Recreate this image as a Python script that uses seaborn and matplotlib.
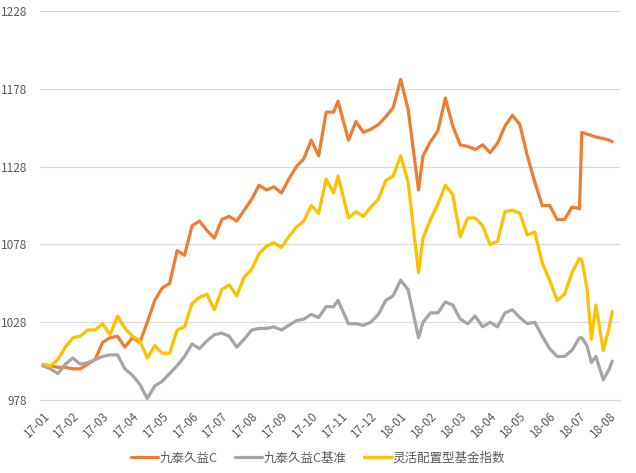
import numpy as np
import pandas as pd
import matplotlib
matplotlib.use('Agg')
import matplotlib.pyplot as plt
import seaborn as sns

months = [0, 0.25, 0.5, 0.75, 1, 1.25, 1.5, 1.75, 2, 2.25, 2.5, 2.75, 3, 3.25, 3.5, 3.75,
          4, 4.25, 4.5, 4.75, 5, 5.25, 5.5, 5.75, 6, 6.25, 6.5, 6.75, 7, 7.25, 7.5, 7.75,
          8, 8.25, 8.5, 8.75, 9, 9.25, 9.5, 9.75, 9.9, 10.25, 10.5, 10.75, 11, 11.25, 11.5,
          11.75, 12, 12.25, 12.6, 12.75, 13, 13.25, 13.5, 13.75, 14, 14.25, 14.5, 14.75,
          15, 15.25, 15.5, 15.75, 16, 16.25, 16.5, 16.75, 17, 17.25, 17.5, 17.75, 18, 18.08,
          18.25, 18.4, 18.55, 18.8, 19, 19.1]

fund_c = [1000, 1000, 999, 999, 998, 998, 1001, 1004, 1015, 1018, 1019, 1012, 1018, 1015, 1028, 1042,
          1050, 1053, 1074, 1071, 1090, 1093, 1087, 1082, 1094, 1096, 1093, 1100, 1107, 1116, 1113, 1115,
          1111, 1120, 1128, 1133, 1145, 1135, 1163, 1163, 1170, 1145, 1157, 1150, 1152, 1155, 1160,
          1166, 1184, 1165, 1113, 1135, 1144, 1151, 1172, 1154, 1142, 1141, 1139, 1142,
          1137, 1143, 1154, 1161, 1155, 1135, 1118, 1103, 1103, 1094, 1094, 1102, 1101, 1150,
          1149, 1148, 1147, 1146, 1145, 1144]

benchmark = [1000, 998, 995, 1001, 1005, 1001, 1002, 1004, 1006, 1007, 1007, 998, 994, 988, 979, 987,
             990, 995, 1000, 1006, 1014, 1011, 1016, 1020, 1021, 1019, 1012, 1017, 1023, 1024, 1024, 1025,
             1023, 1026, 1029, 1030, 1033, 1031, 1038, 1038, 1042, 1027, 1027, 1026, 1028, 1033, 1042,
             1045, 1055, 1049, 1018, 1028, 1034, 1034, 1041, 1039, 1030, 1027, 1032, 1025,
             1028, 1025, 1034, 1036, 1031, 1027, 1028, 1019, 1011, 1006, 1006, 1010, 1018, 1018,
             1013, 1002, 1006, 991, 998, 1003]

flex_index = [1001, 1000, 1004, 1012, 1018, 1019, 1023, 1023, 1027, 1020, 1032, 1024, 1019, 1016, 1005, 1013,
              1008, 1008, 1023, 1025, 1040, 1044, 1046, 1036, 1049, 1052, 1045, 1057, 1062, 1072, 1077, 1079,
              1076, 1083, 1089, 1093, 1103, 1098, 1120, 1111, 1122, 1095, 1099, 1096, 1102, 1107, 1119,
              1122, 1135, 1118, 1060, 1082, 1094, 1104, 1116, 1110, 1083, 1095, 1095, 1090,
              1078, 1080, 1099, 1100, 1098, 1084, 1086, 1066, 1055, 1042, 1046, 1060, 1069, 1068,
              1050, 1017, 1039, 1010, 1025, 1035]

series_names = ['九泰久益C', '九泰久益C基准', '灵活配置型基金指数']
colors = ['#ED7D31', '#A5A5A5', '#FFC000']
month_labels = ['17-01', '17-02', '17-03', '17-04', '17-05', '17-06', '17-07', '17-08', '17-09',
                '17-10', '17-11', '17-12', '18-01', '18-02', '18-03', '18-04', '18-05', '18-06',
                '18-07', '18-08']
y_ticks = [978, 1028, 1078, 1128, 1178, 1228]

df = pd.concat([
    pd.DataFrame({'month': months, 'value': vals, 'series': name})
    for name, vals in zip(series_names, [fund_c, benchmark, flex_index])
])

sns.set_style('white')
plt.rcParams['font.family'] = ['Noto Sans CJK SC', 'DejaVu Sans']

fig = plt.figure(figsize=(6.36, 4.73), dpi=100)
ax = fig.add_axes([40 / 636, 1 - 400 / 473, 580 / 636, 389 / 473])

sns.lineplot(data=df, x='month', y='value', hue='series', hue_order=series_names,
             palette=colors, linewidth=2.3, legend=False, ax=ax, sort=False)

ax.set_xlim(-0.1, 19.36)
ax.set_ylim(978, 1228)
ax.set_yticks(y_ticks)
ax.set_yticklabels([str(v) for v in y_ticks])
ax.set_xticks(range(len(month_labels)))
ax.set_xticklabels(month_labels, rotation=45, ha='right', rotation_mode='anchor')
ax.set_xlabel('')
ax.set_ylabel('')

ax.grid(axis='y', color='#D9D9D9', linewidth=0.8)
ax.grid(axis='x', visible=False)
ax.set_axisbelow(True)
for s in ['left', 'right', 'top']:
    ax.spines[s].set_visible(False)
ax.spines['bottom'].set_color('#D9D9D9')
ax.spines['bottom'].set_linewidth(0.8)
ax.tick_params(axis='x', colors='#595959', labelsize=8.5, length=4, width=0.8,
               color='#D9D9D9', pad=3)
ax.tick_params(axis='y', colors='#595959', labelsize=8.5, length=0, pad=9)

handles = [plt.Line2D([], [], color=c, linewidth=2.3) for c in colors]
fig.legend(handles, series_names, loc='center', bbox_to_anchor=(0.5, 1 - 458 / 473),
           ncol=3, frameon=False, fontsize=9, handlelength=2.2, handletextpad=0.1,
           columnspacing=1.4, labelcolor='#595959')

fig.savefig('out.png', dpi=100)
